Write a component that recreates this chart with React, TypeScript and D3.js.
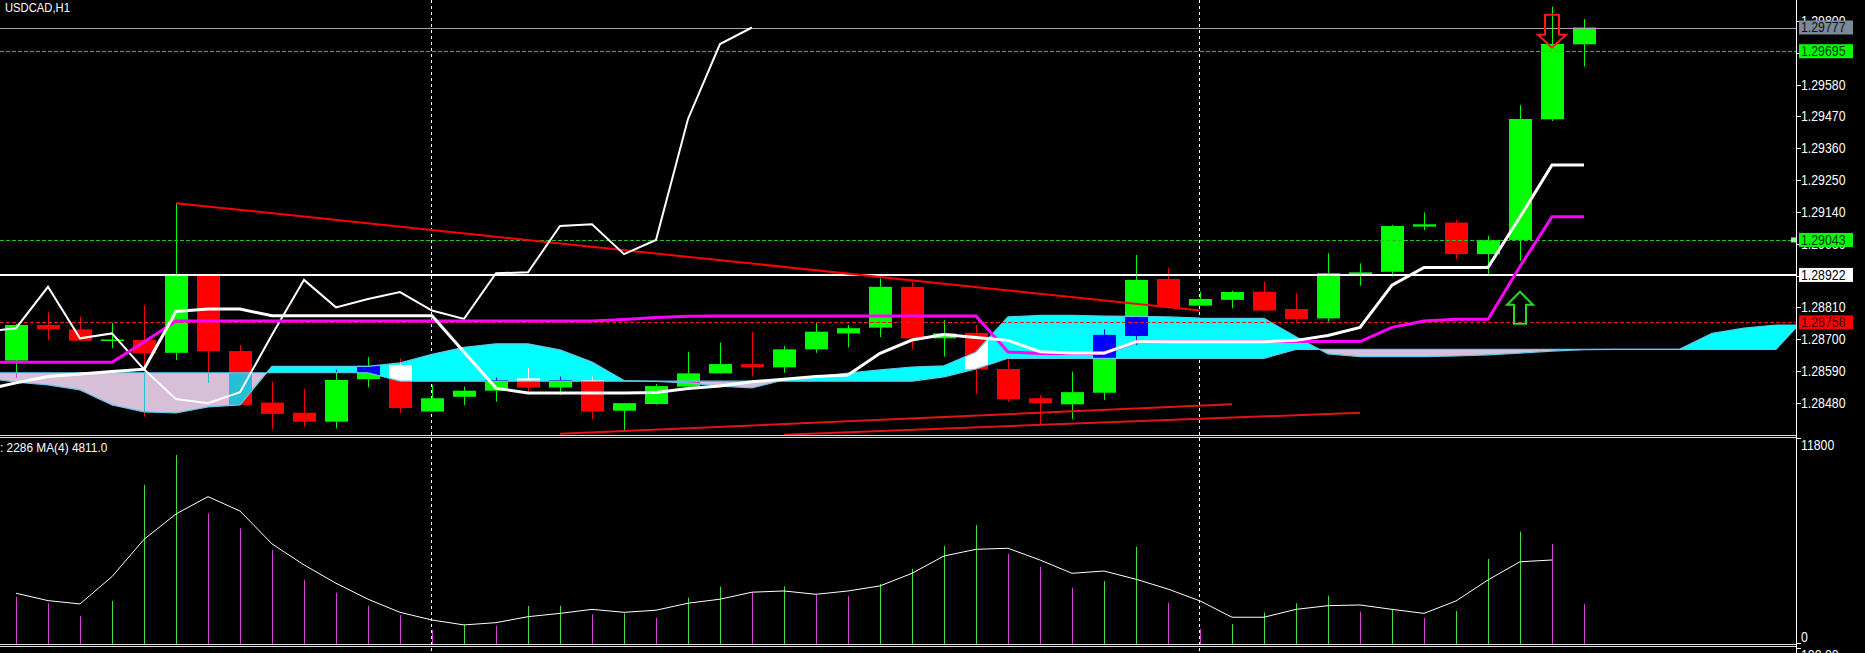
import * as d3 from "d3";
import { useEffect } from "react";

const WIDTH = 1865;
const HEIGHT = 653;
const AXIS_X = 1797;
const PRICE_BOTTOM = 435;
const VOLUME_TOP = 437.5;
const VOLUME_BOTTOM = 644;
const FONT = "'Liberation Sans', Arial, sans-serif";

// USDCAD H1, bars 0..49 (left to right)
const opens = [
  1.28626, 1.28749, 1.28734, 1.28694, 1.28697, 1.28653, 1.28919, 1.28659, 1.28481, 1.28446,
  1.28415, 1.28562, 1.28611, 1.2845, 1.28501, 1.28522, 1.28565, 1.28533, 1.28559, 1.28453,
  1.28476, 1.28536, 1.28582, 1.28614, 1.28603, 1.28665, 1.2872, 1.2874, 1.28881, 1.28703,
  1.28722, 1.28597, 1.28496, 1.28475, 1.28515, 1.28711, 1.28908, 1.28816, 1.28836, 1.28864,
  1.28804, 1.28772, 1.28924, 1.28933, 1.29089, 1.29103, 1.28994, 1.29043, 1.2946, 1.29719,
];
const highs = [
  1.28753, 1.28792, 1.28778, 1.28757, 1.28818, 1.2917, 1.28925, 1.2868, 1.28553, 1.28528,
  1.28594, 1.28638, 1.28634, 1.28542, 1.28536, 1.28568, 1.286, 1.28571, 1.28571, 1.2848,
  1.28545, 1.28657, 1.28688, 1.28726, 1.28677, 1.28755, 1.28749, 1.2891, 1.28899, 1.28766,
  1.28749, 1.28634, 1.28507, 1.28588, 1.28734, 1.28991, 1.28945, 1.28864, 1.28867, 1.28899,
  1.28859, 1.28997, 1.28962, 1.29095, 1.29138, 1.29112, 1.29057, 1.29509, 1.29849, 1.29806,
];
const lows = [
  1.28566, 1.28697, 1.28694, 1.28669, 1.28432, 1.28628, 1.28548, 1.28471, 1.28389, 1.28396,
  1.28392, 1.28534, 1.28444, 1.28449, 1.28472, 1.28484, 1.28519, 1.28507, 1.28423, 1.28386,
  1.28474, 1.2853, 1.28581, 1.28571, 1.28584, 1.28653, 1.28672, 1.28707, 1.28665, 1.2864,
  1.28511, 1.28484, 1.28404, 1.28424, 1.2849, 1.2868, 1.28808, 1.28815, 1.28807, 1.28798,
  1.28761, 1.28761, 1.28885, 1.28916, 1.29077, 1.28976, 1.28925, 1.28971, 1.29454, 1.29642,
];
const closes = [
  1.28749, 1.28734, 1.28695, 1.28699, 1.28651, 1.28919, 1.28659, 1.28473, 1.28442, 1.28415,
  1.28559, 1.28608, 1.28462, 1.28496, 1.28522, 1.28559, 1.28533, 1.28559, 1.2845, 1.28479,
  1.28538, 1.28582, 1.28614, 1.28603, 1.28665, 1.28726, 1.28738, 1.28881, 1.28703, 1.2872,
  1.28596, 1.28493, 1.28479, 1.28517, 1.28715, 1.28905, 1.2881, 1.28839, 1.28863, 1.28799,
  1.2877, 1.28928, 1.28931, 1.29091, 1.29097, 1.28994, 1.29043, 1.29461, 1.2972, 1.29777,
];

const volumes = [
  2700, 2330, 1600, 2460, 9090, 10800, 7470, 6610, 5370, 3660,
  2930, 2190, 1660, 800, 1090, 1050, 2170, 2190, 1700, 1750,
  1500, 2650, 3280, 2930, 3300, 2800, 2740, 3430, 4290, 5600,
  6800, 5140, 4420, 3220, 3600, 5560, 2360, 860, 1140, 1810,
  2330, 2760, 1850, 1980, 1500, 1890, 4860, 6420, 5720, 2286,
];
const volumeBeforeFirst = 2900;
// MA(4) of volume as drawn, bars 0..48
const volumeMA = [
  2900, 2480, 2290, 3850, 5980, 7430, 8420, 7600, 5720, 4520,
  3470, 2560, 1810, 1370, 1090, 1220, 1560, 1750, 1980, 1810,
  1930, 2330, 2560, 2960, 3030, 2840, 3030, 3320, 4040, 5030,
  5410, 5470, 4800, 4040, 4170, 3700, 3140, 2460, 1530, 1530,
  1980, 2190, 2230, 1980, 1750, 2460, 3660, 4700, 4800,
];
const volumeMALabel = "4811.0";

// Ichimoku lines, bars -1..49
const tenkan = [
  1.28525, 1.28549, 1.28571, 1.2858, 1.28588, 1.28596, 1.28796, 1.28804, 1.28804, 1.28781,
  1.28781, 1.28781, 1.28781, 1.28781, 1.28781, 1.28656, 1.28531, 1.28514, 1.28514, 1.28514,
  1.28514, 1.28516, 1.2853, 1.28538, 1.28553, 1.28562, 1.28571, 1.28576, 1.28651, 1.28697,
  1.28716, 1.28706, 1.28696, 1.28657, 1.28652, 1.28652, 1.28691, 1.28691, 1.28691, 1.28691,
  1.28691, 1.28696, 1.28713, 1.28741, 1.28887, 1.28948, 1.28948, 1.28948, 1.29122, 1.29302,
  1.29302,
];
const kijun = [
  1.2862, 1.2862, 1.2862, 1.2862, 1.2862, 1.2869, 1.28763, 1.28763, 1.28763, 1.28763,
  1.28763, 1.28763, 1.28763, 1.28763, 1.28763, 1.28763, 1.28763, 1.28763, 1.28763, 1.28763,
  1.28768, 1.28775, 1.28779, 1.2878, 1.2878, 1.2878, 1.2878, 1.2878, 1.2878, 1.2878,
  1.2878, 1.2878, 1.28656, 1.28651, 1.28651, 1.28651, 1.2869, 1.28692, 1.28692, 1.28692,
  1.28692, 1.28692, 1.28692, 1.28692, 1.28741, 1.28763, 1.28769, 1.28769, 1.28951, 1.29123,
  1.29123,
];
// cloud spans, bars -1..56 (projected ahead)
const senkouA = [
  1.28566, 1.28552, 1.28542, 1.28525, 1.28473, 1.28449, 1.28445, 1.28466, 1.28473, 1.28606,
  1.28606, 1.28606, 1.28606, 1.28618, 1.28648, 1.28672, 1.28684, 1.28684, 1.28663, 1.28621,
  1.28557, 1.28554, 1.28549, 1.28538, 1.28532, 1.28559, 1.2857, 1.28583, 1.28594, 1.28604,
  1.28608, 1.28656, 1.28777, 1.28782, 1.28782, 1.2878, 1.28779, 1.28777, 1.28773, 1.28772,
  1.28772, 1.28708, 1.28649, 1.2864, 1.2864, 1.2864, 1.28642, 1.28646, 1.28652, 1.28659,
  1.28664, 1.28665, 1.28665, 1.28666, 1.2872, 1.28738, 1.28749, 1.28749,
];
const senkouB = [
  1.28584, 1.28584, 1.28584, 1.28584, 1.28584, 1.28584, 1.28584, 1.28584, 1.28584, 1.28584,
  1.28584, 1.28584, 1.28584, 1.28555, 1.28555, 1.28555, 1.28555, 1.28555, 1.28555, 1.28555,
  1.28555, 1.28555, 1.28555, 1.28555, 1.28555, 1.28555, 1.28555, 1.28555, 1.28555, 1.28555,
  1.2857, 1.28597, 1.28634, 1.28634, 1.28634, 1.28634, 1.28634, 1.28634, 1.28634, 1.28634,
  1.28634, 1.28665, 1.28665, 1.28665, 1.28665, 1.28665, 1.28665, 1.28665, 1.28665, 1.28665,
  1.28665, 1.28665, 1.28665, 1.28665, 1.28665, 1.28665, 1.28665, 1.28784,
];

const priceTicks = [
  1.298, 1.2969, 1.2958, 1.2947, 1.2936, 1.2925, 1.2914, 1.2903, 1.2892, 1.2881, 1.287, 1.2859, 1.2848,
];
const volumeTicks = ["11800", "0"];
const daySeparators = [13, 37];

const bidPrice = 1.29777;
const greenLevels = [1.29695, 1.29043];
const whiteLevel = 1.28922;
const redLevel = 1.28758;

const trendLines = [
  { from: [5, 1.2917], to: [37, 1.28799] },
  { from: [17, 1.28373], to: [38, 1.28475] },
  { from: [24, 1.2837], to: [42, 1.28446] },
];
const sellSignal = { bar: 48, price: 1.29707 };
const buySignal = { bar: 47, price: 1.28864 };

function Txt({ x, y, text, fill, size = 14, sx = 0.88 }: { x: number; y: number; text: string; fill: string; size?: number; sx?: number }) {
  return (
    <text transform={`translate(${x},${y}) scale(${sx},1)`} fill={fill} fontFamily={FONT} fontSize={size}>
      {text}
    </text>
  );
}

export default function App() {
  useEffect(() => {
    document.body.style.margin = "0";
    document.body.style.background = "#000";
  }, []);

  const x = d3.scaleLinear().domain([0, 49]).range([16, 1584]);
  const y = d3.scaleLinear().domain([1.28369, 1.29872]).range([PRICE_BOTTOM, 0]);
  const vy = d3.scaleLinear().domain([0, 11800]).range([VOLUME_BOTTOM, VOLUME_TOP]);
  const crisp = (v: number) => Math.round(v) + 0.5;

  const cloud = senkouA.map((a, k) => ({ bar: k - 1, a, b: senkouB[k] }));
  type C = (typeof cloud)[number];
  const between = d3.area<C>().x((d) => x(d.bar)).y0((d) => y(d.a)).y1((d) => y(d.b))(cloud) ?? "";
  const aboveB = d3.area<C>().x((d) => x(d.bar)).y0(0).y1((d) => y(d.b))(cloud) ?? "";
  const belowB = d3.area<C>().x((d) => x(d.bar)).y0((d) => y(d.b)).y1(PRICE_BOTTOM)(cloud) ?? "";
  const spanA = d3.line<C>().x((d) => x(d.bar)).y((d) => y(d.a))(cloud) ?? "";
  const spanB = d3.line<C>().x((d) => x(d.bar)).y((d) => y(d.b))(cloud) ?? "";

  const fromPrev = d3.line<number>().x((_, k) => x(k - 1)).y((v) => y(v));
  // lagging span: close plotted 26 bars back
  const chikouPts: [number, number][] = d3.range(-1, 24).map((b) => [x(b), y(closes[b + 26])]);
  const chikou = d3.line()(chikouPts) ?? "";
  const maPath = d3.line<number>().x((_, k) => x(k)).y((v) => vy(v))(volumeMA) ?? "";

  const sx = x(sellSignal.bar);
  const sy = y(sellSignal.price);
  const bx = x(buySignal.bar);
  const by = y(buySignal.price);

  const tags = [
    { price: bidPrice, fill: "#7b8a99", color: "#111" },
    { price: greenLevels[0], fill: "#00ff00", color: "#003300" },
    { price: greenLevels[1], fill: "#00ff00", color: "#003300" },
    { price: whiteLevel, fill: "#ffffff", color: "#000" },
    { price: redLevel, fill: "#ff0000", color: "#3a0000" },
  ];

  return (
    <svg width={WIDTH} height={HEIGHT} style={{ position: "fixed", left: 0, top: 0, display: "block" }}>
      <defs>
        <clipPath id="price-clip">
          <rect x={0} y={0} width={AXIS_X} height={PRICE_BOTTOM} />
        </clipPath>
        <clipPath id="vol-clip">
          <rect x={0} y={438} width={AXIS_X} height={VOLUME_BOTTOM - 438} />
        </clipPath>
        <clipPath id="cloud-up">
          <path d={aboveB} />
        </clipPath>
        <clipPath id="cloud-down">
          <path d={belowB} />
        </clipPath>
      </defs>
      <rect width={WIDTH} height={HEIGHT} fill="#000" />

      {daySeparators.map((b) => (
        <line key={b} x1={crisp(x(b)) - 1} x2={crisp(x(b)) - 1} y1={0} y2={HEIGHT} stroke="#fff" strokeDasharray="3,3" />
      ))}

      <g clipPath="url(#price-clip)">
        {opens.map((o, i) => {
          const c = closes[i];
          const up = c >= o;
          const col = up ? "#00ff00" : "#ff0000";
          const cx = x(i);
          const top = y(Math.max(o, c));
          const bot = y(Math.min(o, c));
          return (
            <g key={i}>
              <line x1={crisp(cx)} x2={crisp(cx)} y1={y(highs[i])} y2={y(lows[i])} stroke={col} />
              <rect x={Math.round(cx) - 11} y={top} width={23} height={Math.max(1.5, bot - top)} fill={col} />
            </g>
          );
        })}

        <g style={{ mixBlendMode: "difference" }}>
          <path d={between} fill="#00ffff" clipPath="url(#cloud-up)" />
          <path d={between} fill="#d8bfd8" clipPath="url(#cloud-down)" />
        </g>
        <path d={spanA} fill="none" stroke="#62c8ea" strokeWidth={1.2} />
        <path d={spanB} fill="none" stroke="#62c8ea" strokeWidth={1.2} />

        <line x1={0} x2={AXIS_X} y1={crisp(y(bidPrice)) + 1} y2={crisp(y(bidPrice)) + 1} stroke="#a8a8a8" />
        {greenLevels.map((p) => (
          <line key={p} x1={0} x2={AXIS_X} y1={crisp(y(p))} y2={crisp(y(p))} stroke="#22c322" strokeDasharray="4,2" />
        ))}
        <rect x={1791} y={y(greenLevels[1]) - 2.5} width={5} height={5} fill="#9ef09e" />
        <line x1={0} x2={AXIS_X} y1={y(whiteLevel)} y2={y(whiteLevel)} stroke="#fff" strokeWidth={2} />
        <line x1={0} x2={AXIS_X} y1={crisp(y(redLevel))} y2={crisp(y(redLevel))} stroke="#e41c1c" strokeDasharray="4,2" />

        {trendLines.map((t, k) => (
          <line
            key={k}
            x1={x(t.from[0])}
            y1={y(t.from[1])}
            x2={x(t.to[0])}
            y2={y(t.to[1])}
            stroke={k === 0 ? "#ff0000" : "#e51414"}
            strokeWidth={2}
          />
        ))}

        <path d={chikou} fill="none" stroke="#fff" strokeWidth={2} />
        <path d={fromPrev(kijun) ?? ""} fill="none" stroke="#ff00ff" strokeWidth={3} />
        <path d={fromPrev(tenkan) ?? ""} fill="none" stroke="#fff" strokeWidth={3} />

        <path
          d={`M${sx},${sy} L${sx - 14},${sy - 13} L${sx - 7},${sy - 13} L${sx - 7},${sy - 33} L${sx + 7},${sy - 33} L${sx + 7},${sy - 13} L${sx + 14},${sy - 13} Z`}
          fill="none"
          stroke="#ff1a1a"
          strokeWidth={2}
        />
        <path
          d={`M${bx},${by} L${bx + 13},${by + 13} L${bx + 6},${by + 13} L${bx + 6},${by + 32} L${bx - 6},${by + 32} L${bx - 6},${by + 13} L${bx - 13},${by + 13} Z`}
          fill="none"
          stroke="#22dd22"
          strokeWidth={2}
        />
      </g>

      <g clipPath="url(#vol-clip)">
        {volumes.map((v, i) => {
          const prev = i === 0 ? volumeBeforeFirst : volumes[i - 1];
          return (
            <line
              key={i}
              x1={crisp(x(i))}
              x2={crisp(x(i))}
              y1={VOLUME_BOTTOM}
              y2={vy(v)}
              stroke={v > prev ? "#3ee03e" : "#d43fd4"}
            />
          );
        })}
        <path d={maPath} fill="none" stroke="#fff" strokeWidth={1} />
      </g>

      <line x1={0} x2={AXIS_X} y1={435.5} y2={435.5} stroke="#e0e0e0" />
      <line x1={0} x2={AXIS_X} y1={437.5} y2={437.5} stroke="#e0e0e0" />
      <line x1={0} x2={AXIS_X} y1={644.5} y2={644.5} stroke="#e0e0e0" />
      <line x1={0} x2={AXIS_X} y1={646.5} y2={646.5} stroke="#e0e0e0" />
      <line x1={AXIS_X - 0.5} x2={AXIS_X - 0.5} y1={0} y2={HEIGHT} stroke="#fff" />

      {priceTicks.map((t) => (
        <g key={t}>
          <line x1={AXIS_X} x2={AXIS_X + 4} y1={crisp(y(t))} y2={crisp(y(t))} stroke="#fff" />
          <Txt x={1801} y={y(t) + 5} text={t.toFixed(5)} fill="#fff" />
        </g>
      ))}

      {tags.map((t) => (
        <g key={t.price}>
          <rect x={1799} y={y(t.price) - 7} width={54} height={14} fill={t.fill} />
          <Txt x={1801} y={y(t.price) + 5} text={t.price.toFixed(5)} fill={t.color} />
        </g>
      ))}

      <line x1={AXIS_X} x2={AXIS_X + 4} y1={438.5} y2={438.5} stroke="#fff" />
      <Txt x={1801} y={vy(11800) + 12.5} text={volumeTicks[0]} fill="#fff" />
      <line x1={AXIS_X} x2={AXIS_X + 4} y1={643.5} y2={643.5} stroke="#fff" />
      <Txt x={1801} y={vy(0) - 2} text={volumeTicks[1]} fill="#fff" />
      <line x1={AXIS_X} x2={AXIS_X + 4} y1={648.5} y2={648.5} stroke="#fff" />
      <Txt x={1801} y={660} text="100.00" fill="#fff" />

      <Txt x={5} y={12} text="USDCAD,H1" fill="#fff" size={12.5} sx={0.9} />
      <Txt x={0} y={452} text={`: ${volumes[volumes.length - 1]} MA(4) ${volumeMALabel}`} fill="#fff" size={12.5} sx={0.95} />
    </svg>
  );
}
